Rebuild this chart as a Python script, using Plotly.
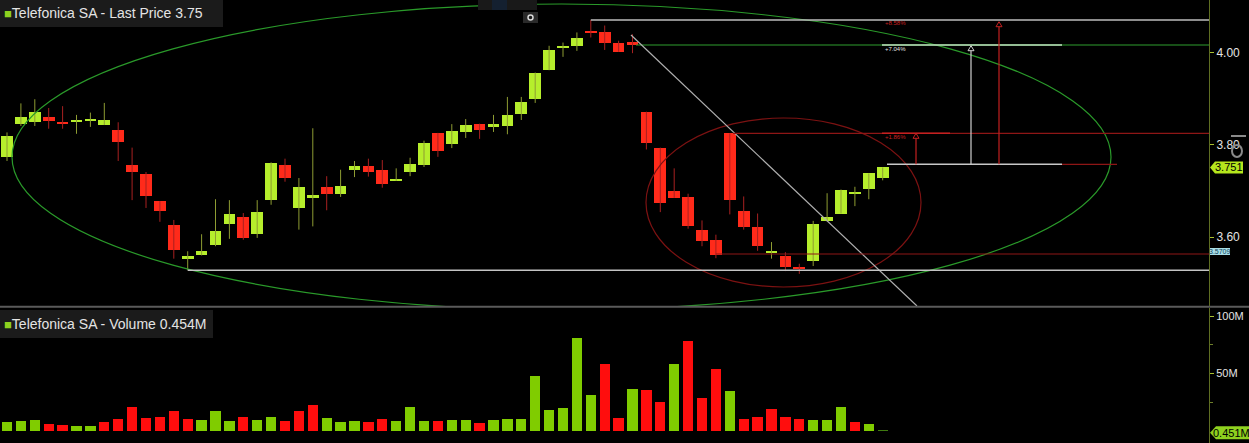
import plotly.graph_objects as go

# ---------------- data ----------------
idx = list(range(64))
opens = [3.774, 3.845, 3.849, 3.861, 3.849, 3.852, 3.852, 3.843, 3.833, 3.757,
         3.736, 3.678, 3.627, 3.552, 3.560, 3.583, 3.629, 3.643, 3.607, 3.681,
         3.756, 3.664, 3.685, 3.708, 3.693, 3.745, 3.755, 3.745, 3.722, 3.740,
         3.757, 3.826, 3.801, 3.828, 3.846, 3.839, 3.840, 3.867, 3.899, 3.962,
         4.010, 4.015, 4.048, 4.044, 4.020, 4.024, 3.872, 3.794, 3.700, 3.686,
         3.615, 3.594, 3.825, 3.657, 3.621, 3.568, 3.559, 3.535, 3.549, 3.634,
         3.651, 3.693, 3.704, 3.727]
highs = [3.827, 3.890, 3.899, 3.880, 3.884, 3.865, 3.870, 3.891, 3.849, 3.794,
         3.741, 3.678, 3.637, 3.569, 3.606, 3.682, 3.680, 3.652, 3.680, 3.762,
         3.770, 3.728, 3.836, 3.732, 3.746, 3.765, 3.770, 3.767, 3.749, 3.772,
         3.809, 3.826, 3.845, 3.856, 3.846, 3.865, 3.904, 3.904, 3.957, 4.015,
         4.022, 4.044, 4.071, 4.059, 4.026, 4.040, 3.872, 3.794, 3.749, 3.694,
         3.636, 3.605, 3.825, 3.688, 3.651, 3.589, 3.567, 3.542, 3.635, 3.695,
         3.703, 3.709, 3.738, 3.751]
lows = [3.765, 3.841, 3.841, 3.835, 3.835, 3.824, 3.839, 3.843, 3.765, 3.680,
        3.663, 3.633, 3.553, 3.528, 3.560, 3.580, 3.596, 3.594, 3.598, 3.670,
        3.720, 3.616, 3.623, 3.658, 3.687, 3.730, 3.731, 3.707, 3.722, 3.732,
        3.752, 3.774, 3.793, 3.815, 3.813, 3.828, 3.823, 3.854, 3.891, 3.962,
        3.991, 4.004, 4.033, 4.006, 4.002, 3.999, 3.790, 3.654, 3.685, 3.618,
        3.580, 3.554, 3.649, 3.616, 3.570, 3.553, 3.526, 3.520, 3.537, 3.634,
        3.651, 3.667, 3.682, 3.723]
closes = [3.820, 3.860, 3.872, 3.851, 3.846, 3.853, 3.855, 3.853, 3.806, 3.741,
          3.689, 3.657, 3.572, 3.558, 3.569, 3.612, 3.649, 3.598, 3.654, 3.760,
          3.729, 3.709, 3.692, 3.693, 3.710, 3.755, 3.742, 3.715, 3.725, 3.758,
          3.805, 3.786, 3.830, 3.843, 3.833, 3.845, 3.865, 3.892, 3.957, 4.006,
          4.015, 4.032, 4.043, 4.020, 4.002, 4.016, 3.804, 3.674, 3.685, 3.624,
          3.591, 3.562, 3.681, 3.622, 3.581, 3.569, 3.535, 3.530, 3.629, 3.643,
          3.703, 3.698, 3.738, 3.751]
volumes_m = [7.5, 8.6, 10.0, 5.8, 5.2, 4.0, 4.0, 7.5, 10.6, 20.7,
             11.2, 12.3, 17.8, 10.6, 9.2, 17.0, 8.6, 12.3, 9.5, 12.1,
             8.6, 17.0, 22.4, 11.0, 7.5, 8.9, 7.8, 10.6, 8.6, 21.3,
             8.9, 8.6, 9.2, 9.2, 6.9, 9.2, 10.6, 10.6, 48.0, 18.7,
             19.8, 80.5, 31.6, 58.6, 11.0, 36.5, 36.0, 25.0, 58.3, 77.9,
             29.0, 53.7, 35.1, 10.6, 12.3, 19.2, 12.3, 10.6, 9.2, 9.2,
             20.7, 7.8, 6.3, 0.454]
price_ticks = [3.60, 3.80, 4.00]
volume_ticks_m = [50, 100]
last_price = 3.751
last_volume_label = "0.451M"
price_title = "Telefonica SA - Last Price 3.75"
volume_title = "Telefonica SA - Volume 0.454M"

# ---------------- styles / layout constants ----------------
W, H = 1249, 443
AX_X = 1209            # pixel x of the right axis line
C0, DX = 7.0, 13.9     # pixel of first candle, candle spacing
P_Y4, P_SCALE = 52.7, 460.75   # pixel y of 4.00, pixels per 1.00
PRICE_BOTTOM_PX = 306
VOL_TOP_PX = 308
V_ZERO_PX, V_SCALE = 431.0, 57.5 / 50.0   # pixel of 0, pixels per 1M

UP, DOWN = "#b6ee2c", "#ff2a1a"
WICK_UP, WICK_DOWN = "#8e9c32", "#a82020"
VUP, VDOWN = "#80cc00", "#ff0d0d"
TXT = "#e4e4e4"
AXC = "#5f6e22"
FONT = "Liberation Sans, Arial, sans-serif"

xr = [(0 - C0) / DX, (AX_X - C0) / DX]
def xi(px):  # pixel x -> index units
    return (px - C0) / DX
def pp(py):  # pixel y -> price units
    return 4.0 - (py - P_Y4) / P_SCALE
def fx(px):
    return px / W
def fy(py):
    return 1 - py / H

p_range = [pp(PRICE_BOTTOM_PX), pp(0)]
v_range = [-(H - V_ZERO_PX) / V_SCALE * 1e6, (V_ZERO_PX - VOL_TOP_PX) / V_SCALE * 1e6]

fig = go.Figure()

# wicks
for up in (True, False):
    xs, ys = [], []
    for i, o, h, l, c in zip(idx, opens, highs, lows, closes):
        if (c >= o) == up:
            xs += [i, i, None]
            ys += [l, h, None]
    fig.add_trace(go.Scatter(x=xs, y=ys, mode="lines", hoverinfo="skip",
                             line=dict(color=WICK_UP if up else WICK_DOWN, width=1),
                             xaxis="x", yaxis="y"))

# bodies
min_h = 0.003
bases, heights, bcolors = [], [], []
for o, c in zip(opens, closes):
    lo, hi = min(o, c), max(o, c)
    hgt = hi - lo
    if hgt < min_h:
        lo -= (min_h - hgt) / 2
        hgt = min_h
    bases.append(lo)
    heights.append(hgt)
    bcolors.append(UP if c >= o else DOWN)
fig.add_trace(go.Bar(x=idx, y=heights, base=bases, width=0.84,
                     marker=dict(color=bcolors, line=dict(width=0)),
                     xaxis="x", yaxis="y", customdata=list(zip(opens, highs, lows, closes)),
                     hovertemplate="O %{customdata[0]}<br>H %{customdata[1]}<br>L %{customdata[2]}<br>C %{customdata[3]}<extra></extra>"))

# volume
vcolors = []
for k, c in enumerate(closes):
    prev = closes[k - 1] if k > 0 else c
    vcolors.append(VUP if c >= prev else VDOWN)
vcolors[-1] = "#3f7a10"
fig.add_trace(go.Bar(x=idx, y=[v * 1e6 for v in volumes_m], width=0.74,
                     marker=dict(color=vcolors, line=dict(width=0)),
                     xaxis="x2", yaxis="y2"))

shapes = []
def seg(x0, y0, x1, y1, color, width=1, dash="solid"):
    shapes.append(dict(type="line", xref="x", yref="y", x0=x0, y0=y0, x1=x1, y1=y1,
                       line=dict(color=color, width=width, dash=dash), layer="above"))

# drawings on the price panel
shapes.append(dict(type="circle", xref="x", yref="y", x0=xi(12), x1=xi(1111), y0=pp(4), y1=pp(310),
                   line=dict(color="#2a9a2a", width=1.2), layer="above"))
shapes.append(dict(type="circle", xref="x", yref="y", x0=xi(646), x1=xi(921), y0=pp(118), y1=pp(287),
                   line=dict(color="#7c1212", width=1.2), layer="above"))
seg(42, highs[42], xr[1], highs[42], "#bdbdbd", 1.5)
seg(xi(636), pp(45), xr[1], pp(45), "#2e9e2e", 1.2)
seg(xi(631), pp(35), xi(917), pp(306), "#b0b0b0", 1.2)
seg(13, lows[13], xr[1], lows[13], "#c4c4c4", 1.5)
seg(51, pp(254), xr[1], pp(254), "#8e1616", 1.2)
seg(xi(733), pp(133.3), xr[1], pp(133.3), "#8e1616", 1.2)

# measuring tool
base_p = pp(164.3)
seg(xi(887), base_p, xi(1062), base_p, "#c8c8c8", 1.5)
seg(xi(1062), base_p, xi(1117), base_p, "#8e1616", 1.2)
seg(xi(882), pp(45), xi(1062), pp(45), "#bfe0bf", 1.5)
seg(xi(882), pp(133.3), xi(950), pp(133.3), "#c42020", 1.5)
for vx, top_py, col in [(971, 45.7, "#d0d0d0"), (999, 21.7, "#c42020"), (916, 133.3, "#c42020")]:
    seg(xi(vx), base_p, xi(vx), pp(top_py + 5), col, 1.2)
    shapes.append(dict(type="path", xref="x", yref="y",
                       path=f"M {xi(vx)},{pp(top_py)} L {xi(vx + 3)},{pp(top_py + 5)} L {xi(vx - 3)},{pp(top_py + 5)} Z",
                       line=dict(color=col, width=1), fillcolor="rgba(0,0,0,0)", layer="above"))

# panel separator
shapes.append(dict(type="line", xref="paper", yref="paper", x0=0, x1=1, y0=fy(306.8), y1=fy(306.8),
                   line=dict(color="#5a5a5a", width=2)))
# title boxes
shapes.append(dict(type="rect", xref="paper", yref="paper", x0=0, x1=fx(223), y0=fy(27), y1=fy(0),
                   fillcolor="#1b1b1b", line=dict(width=0), layer="above"))
shapes.append(dict(type="rect", xref="paper", yref="paper", x0=0, x1=fx(213), y0=fy(338), y1=fy(310),
                   fillcolor="#1b1b1b", line=dict(width=0), layer="above"))
# toolbar
for x0, x1, col in [(478, 492, "#191919"), (492, 507, "#142030"), (507, 522, "#191919"), (522, 537, "#191919")]:
    shapes.append(dict(type="rect", xref="paper", yref="paper", x0=fx(x0), x1=fx(x1), y0=fy(10), y1=fy(0),
                       fillcolor=col, line=dict(width=0), layer="above"))
shapes.append(dict(type="rect", xref="paper", yref="paper", x0=fx(523), x1=fx(538), y0=fy(23), y1=fy(12),
                   fillcolor="#2a2a2a", line=dict(width=0), layer="above"))
shapes.append(dict(type="circle", xref="paper", yref="paper", x0=fx(528), x1=fx(533), y0=fy(20), y1=fy(15),
                   fillcolor="#1a1a1a", line=dict(color="#d8d8d8", width=1.5), layer="above"))
# last price tag
hh = 6 / P_SCALE
shapes.append(dict(type="path", xref="paper", yref="y",
                   path=(f"M {fx(AX_X + 1)},{last_price} L {fx(1215)},{last_price + hh} L {fx(1243)},{last_price + hh} "
                         f"L {fx(1243)},{last_price - hh} L {fx(1215)},{last_price - hh} Z"),
                   fillcolor="#b5e61d", line=dict(width=0), layer="above"))
# 3.5709 tag
shapes.append(dict(type="rect", xref="paper", yref="y", x0=fx(1210), x1=fx(1230), y0=pp(255), y1=pp(248),
                   fillcolor="#a9dde6", line=dict(width=0), layer="above"))
# volume tag
vc = -(432.7 - V_ZERO_PX) / V_SCALE * 1e6
vh = 6.5 / V_SCALE * 1e6
shapes.append(dict(type="path", xref="paper", yref="y2",
                   path=(f"M {fx(AX_X + 1)},{vc} L {fx(1216)},{vc + vh} L {fx(1249)},{vc + vh} "
                         f"L {fx(1249)},{vc - vh} L {fx(1216)},{vc - vh} Z"),
                   fillcolor="#8fd11f", line=dict(width=0), layer="above"))
# scroll icon at right
shapes.append(dict(type="line", xref="paper", yref="paper", x0=fx(1231), x1=fx(1246), y0=fy(136), y1=fy(136),
                   line=dict(color="#8a8a8a", width=2)))
shapes.append(dict(type="circle", xref="paper", yref="paper", x0=fx(1232), x1=fx(1242), y0=fy(157), y1=fy(145),
                   line=dict(color="#8a8a8a", width=2)))

sq = '<span style="color:#8ed11f;font-size:13px">■</span>'
annotations = [
    dict(xref="paper", yref="paper", x=fx(2), y=fy(13.5), xanchor="left", yanchor="middle", showarrow=False,
         text=sq + price_title, font=dict(family=FONT, size=14, color=TXT)),
    dict(xref="paper", yref="paper", x=fx(2), y=fy(324), xanchor="left", yanchor="middle", showarrow=False,
         text=sq + volume_title, font=dict(family=FONT, size=14, color=TXT)),
    dict(xref="paper", yref="y", x=fx(1229), y=last_price, xanchor="center", yanchor="middle", showarrow=False,
         text=f"{last_price:.3f}", font=dict(family=FONT, size=11, color="#000000")),
    dict(xref="paper", yref="y", x=fx(1220), y=pp(251.5), xanchor="center", yanchor="middle", showarrow=False,
         text="3.5709", font=dict(family=FONT, size=7, color="#0b3d5a")),
    dict(xref="paper", yref="y2", x=fx(1231), y=vc, xanchor="center", yanchor="middle", showarrow=False,
         text=last_volume_label, font=dict(family=FONT, size=11, color="#000000")),
    dict(xref="x", yref="y", x=xi(883), y=pp(23), xanchor="left", yanchor="middle", showarrow=False,
         text="+8.58%", font=dict(family=FONT, size=6, color="#c42020")),
    dict(xref="x", yref="y", x=xi(883), y=pp(48.5), xanchor="left", yanchor="middle", showarrow=False,
         text="+7.04%", font=dict(family=FONT, size=6, color="#e0e0e0")),
    dict(xref="x", yref="y", x=xi(883), y=pp(136.5), xanchor="left", yanchor="middle", showarrow=False,
         text="+1.86%", font=dict(family=FONT, size=6, color="#c42020")),
]

yaxis_common = dict(side="right", showgrid=False, zeroline=False, showline=True, linecolor=AXC, linewidth=1,
                    ticks="outside", ticklen=4, tickcolor="#a8c030", tickwidth=1, fixedrange=True)
fig.update_layout(
    width=W, height=H, margin=dict(l=0, r=0, t=0, b=0),
    paper_bgcolor="#000000", plot_bgcolor="#000000",
    showlegend=False, barmode="overlay", bargap=0,
    xaxis=dict(domain=[0, AX_X / W], range=xr, visible=False, anchor="y"),
    xaxis2=dict(domain=[0, AX_X / W], range=xr, visible=False, anchor="y2", matches="x"),
    yaxis=dict(domain=[1 - PRICE_BOTTOM_PX / H, 1], range=p_range, anchor="x",
               tickvals=price_ticks, ticktext=[f"{t:.2f}" for t in price_ticks],
               tickfont=dict(family=FONT, size=12, color=TXT), **yaxis_common),
    yaxis2=dict(domain=[0, 1 - VOL_TOP_PX / H], range=v_range, anchor="x2",
                tickvals=[t * 1e6 for t in volume_ticks_m], ticktext=[f"{t}M" for t in volume_ticks_m],
                tickfont=dict(family=FONT, size=11, color=TXT),
                minor=dict(tickvals=[25e6, 75e6], ticks="outside", ticklen=3, tickcolor="#6e7e2a"),
                **yaxis_common),
    shapes=shapes, annotations=annotations,
)

fig.write_html("out.html", config={"displayModeBar": False},
               post_script="document.body.style.margin='0';document.body.style.background='#000';")
